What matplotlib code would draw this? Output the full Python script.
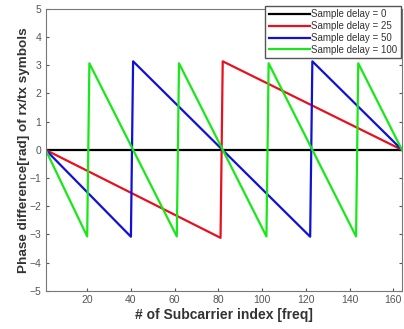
import numpy as np
import matplotlib
matplotlib.use('Agg')
import matplotlib.pyplot as plt

plt.rcParams['font.family'] = ['Liberation Sans', 'DejaVu Sans']

# breakpoints (subcarrier index, phase in rad)
x_d0 = [1, 164]
y_d0 = [0, 0]
x_d25 = [1, 81, 82, 164]
y_d25 = [0, -3.12, 3.14, 0]
x_d50 = [1, 40, 41, 122, 123, 164]
y_d50 = [0, -3.08, 3.14, -3.08, 3.14, 0]
x_d100 = [1, 20, 21, 61, 62, 102, 103, 143, 144, 164]
y_d100 = [0, -3.07, 3.07, -3.07, 3.07, -3.07, 3.07, -3.07, 3.07, 0]
labels = ['Sample delay = 0', 'Sample delay = 25', 'Sample delay = 50', 'Sample delay = 100']

fig = plt.figure(figsize=(4.04, 3.29), dpi=100)
ax = fig.add_axes([0.113, 0.116, 0.882, 0.857])

ax.plot(x_d0, y_d0, color='black', lw=1.6, label=labels[0])
ax.plot(x_d25, y_d25, color='#e8101e', lw=1.6, label=labels[1])
ax.plot(x_d50, y_d50, color='#1010d8', lw=1.6, label=labels[2])
ax.plot(x_d100, y_d100, color='#18e818', lw=1.6, label=labels[3])

ax.set_xlim(1, 164)
ax.set_ylim(-5, 5)
ax.set_xticks([20, 40, 60, 80, 100, 120, 140, 160])
ax.set_yticks(range(-5, 6))
ax.tick_params(direction='in', length=2.5, labelsize=7.5, colors='#555555',
               top=False, right=True, pad=3)
for s in ax.spines.values():
    s.set_color('#777777')
    s.set_linewidth(0.8)

ax.set_xlabel('# of Subcarrier index [freq]', fontsize=10, fontweight='bold', color='#333333', labelpad=2)
ax.set_ylabel('Phase difference[rad] of rx/tx symbols', fontsize=9.7, fontweight='bold', color='#333333', labelpad=0)

leg = ax.legend(loc='upper right', bbox_to_anchor=(1.0, 1.015), fontsize=7, handlelength=4.2,
                handletextpad=0.2, borderpad=0.35, labelspacing=0.2, fancybox=False,
                framealpha=1, edgecolor='#555555', borderaxespad=0.1)
for t in leg.get_texts():
    t.set_color('#333333')

plt.savefig('out.png', dpi=100)
